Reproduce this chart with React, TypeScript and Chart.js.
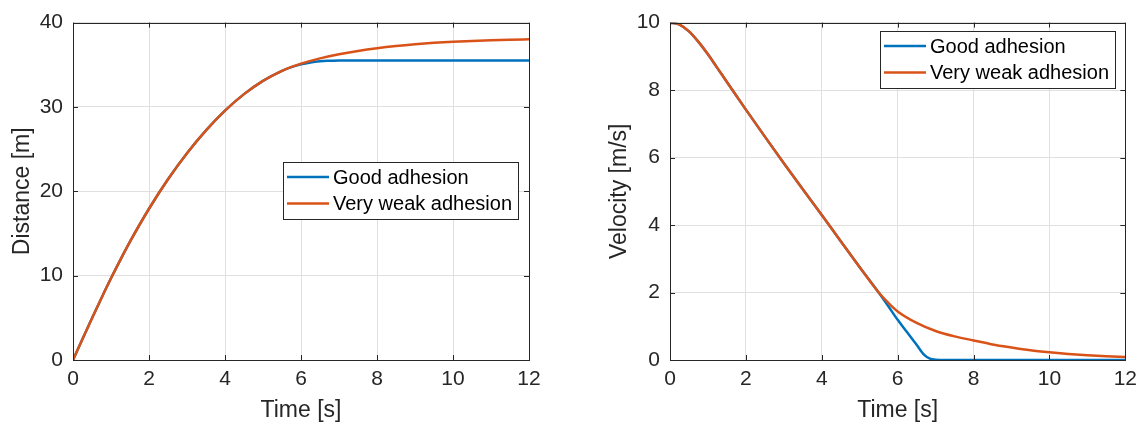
import React, { useEffect, useRef } from "react";
import { Chart, registerables } from "chart.js";

Chart.register(...registerables);

// ---------------- data ----------------
const seriesLabels = ["Good adhesion", "Very weak adhesion"];
const seriesColors = ["#0072BD", "#D95319"];

const timeGood = [0, 0.25, 0.5, 0.75, 1, 1.25, 1.5, 2, 2.5, 3, 3.5, 4, 4.5, 5, 5.5, 5.75, 6, 6.25, 6.5, 6.7, 6.85, 7, 7.25, 7.5, 8, 9, 10, 11, 12];
const velocityGood = [10, 9.94, 9.74, 9.43, 9.06, 8.65, 8.24, 7.42, 6.62, 5.83, 5.06, 4.3, 3.52, 2.75, 2.0, 1.6, 1.19, 0.82, 0.45, 0.15, 0.04, 0.01, 0, 0, 0, 0, 0, 0, 0];
const distanceGood = [0, 2.49, 4.95, 7.36, 9.69, 11.9, 14.03, 17.93, 21.42, 24.51, 27.22, 29.56, 31.52, 33.09, 34.28, 34.72, 35.05, 35.27, 35.41, 35.47, 35.49, 35.5, 35.5, 35.5, 35.5, 35.5, 35.5, 35.5, 35.5];

const timeWeak = [0, 0.25, 0.5, 0.75, 1, 1.25, 1.5, 2, 2.5, 3, 3.5, 4, 4.5, 5, 5.5, 5.75, 6, 6.5, 7, 7.5, 8, 8.5, 9, 9.5, 10, 10.5, 11, 11.5, 12];
const velocityWeak = [10, 9.94, 9.74, 9.43, 9.06, 8.65, 8.24, 7.42, 6.62, 5.83, 5.06, 4.3, 3.52, 2.75, 2.0, 1.7, 1.44, 1.1, 0.86, 0.7, 0.58, 0.46, 0.37, 0.29, 0.23, 0.18, 0.14, 0.11, 0.09];
const distanceWeak = [0, 2.49, 4.95, 7.36, 9.69, 11.9, 14.03, 17.93, 21.42, 24.51, 27.22, 29.56, 31.52, 33.09, 34.28, 34.75, 35.13, 35.76, 36.25, 36.64, 36.96, 37.22, 37.43, 37.6, 37.73, 37.83, 37.91, 37.97, 38.02];

// ---------------- style ----------------
const FONT = "'Liberation Sans', Arial, Helvetica, sans-serif";
const AXIS_COLOR = "#262626";
const GRID_COLOR = "#e0e0e0";

Chart.defaults.font.family = FONT;

const px = (v: number) => Math.round(v) + 0.5;

const matlabBox = {
  id: "matlabBox",
  afterDraw(chart: any) {
    const { ctx, chartArea: a, scales } = chart;
    ctx.save();
    ctx.strokeStyle = AXIS_COLOR;
    ctx.lineWidth = 1;
    const L = 5;
    ctx.beginPath();
    scales.x.ticks.forEach((t: any) => {
      const x = px(scales.x.getPixelForValue(t.value));
      ctx.moveTo(x, a.bottom);
      ctx.lineTo(x, a.bottom - L);
      ctx.moveTo(x, a.top);
      ctx.lineTo(x, a.top + L);
    });
    scales.y.ticks.forEach((t: any) => {
      const y = px(scales.y.getPixelForValue(t.value));
      ctx.moveTo(a.left, y);
      ctx.lineTo(a.left + L, y);
      ctx.moveTo(a.right, y);
      ctx.lineTo(a.right - L, y);
    });
    ctx.stroke();
    const l = px(a.left), r = px(a.right), t = px(a.top), b = px(a.bottom);
    ctx.strokeRect(l, t, r - l, b - t);
    ctx.restore();
  },
};

const boxLegend = {
  id: "boxLegend",
  afterDraw(chart: any, _args: any, opts: any) {
    const { ctx } = chart;
    const { left, top, width, height } = opts;
    ctx.save();
    ctx.fillStyle = "#ffffff";
    ctx.fillRect(left, top, width, height);
    ctx.strokeStyle = AXIS_COLOR;
    ctx.lineWidth = 1;
    ctx.strokeRect(px(left), px(top), Math.round(width), Math.round(height));
    ctx.font = `20px ${FONT}`;
    ctx.textBaseline = "middle";
    ctx.textAlign = "left";
    const rows = [15, 41.5];
    chart.data.datasets.forEach((ds: any, i: number) => {
      const y = top + rows[i];
      ctx.strokeStyle = ds.borderColor;
      ctx.lineWidth = 2.5;
      ctx.beginPath();
      ctx.moveTo(left + 4, y);
      ctx.lineTo(left + 46, y);
      ctx.stroke();
      ctx.fillStyle = "#000000";
      ctx.fillText(ds.label, left + 50, y + 1);
    });
    ctx.restore();
  },
};

function toPoints(ts: number[], vs: number[]) {
  return ts.map((t, i) => ({ x: t, y: vs[i] }));
}

function makeConfig(
  good: number[],
  weak: number[],
  yMax: number,
  yStep: number,
  yTitle: string,
  yWidth: number,
  yTitlePad: number,
  rightPad: number,
  legendPos: { left: number; top: number; width: number; height: number }
): any {
  return {
    type: "line",
    data: {
      datasets: [
        {
          label: seriesLabels[0],
          data: toPoints(timeGood, good),
          borderColor: seriesColors[0],
          backgroundColor: seriesColors[0],
          borderWidth: 2.5,
          pointRadius: 0,
          cubicInterpolationMode: "monotone",
          order: 1,
        },
        {
          label: seriesLabels[1],
          data: toPoints(timeWeak, weak),
          borderColor: seriesColors[1],
          backgroundColor: seriesColors[1],
          borderWidth: 2.5,
          pointRadius: 0,
          cubicInterpolationMode: "monotone",
          order: 0,
        },
      ],
    },
    options: {
      animation: false,
      responsive: false,
      devicePixelRatio: 1,
      events: [],
      layout: { padding: { top: 20, right: rightPad, bottom: 0, left: 0 } },
      plugins: {
        legend: { display: false },
        tooltip: { enabled: false },
        boxLegend: legendPos,
      },
      scales: {
        x: {
          type: "linear",
          min: 0,
          max: 12,
          ticks: { stepSize: 2, color: AXIS_COLOR, font: { size: 21 }, padding: 7, maxRotation: 0 },
          grid: { color: GRID_COLOR, drawTicks: false, lineWidth: 1 },
          border: { display: false },
          title: { display: true, text: "Time [s]", color: AXIS_COLOR, font: { size: 23 }, padding: { top: 0, bottom: 6 } },
          afterFit: (s: any) => { s.height = 70; },
        },
        y: {
          type: "linear",
          min: 0,
          max: yMax,
          ticks: { stepSize: yStep, color: AXIS_COLOR, font: { size: 21 }, padding: 10 },
          grid: { color: GRID_COLOR, drawTicks: false, lineWidth: 1 },
          border: { display: false },
          title: { display: true, text: yTitle, color: AXIS_COLOR, font: { size: 23 }, padding: { top: yTitlePad, bottom: 0 } },
          afterFit: (s: any) => { s.width = yWidth; },
        },
      },
    },
    plugins: [matlabBox, boxLegend],
  };
}

export default function App() {
  const leftRef = useRef<HTMLCanvasElement>(null);
  const rightRef = useRef<HTMLCanvasElement>(null);

  useEffect(() => {
    const c1 = new Chart(
      leftRef.current as HTMLCanvasElement,
      makeConfig(distanceGood, distanceWeak, 40, 10, "Distance [m]", 73, 9, 43, { left: 283, top: 162, width: 235, height: 57 })
    );
    const c2 = new Chart(
      rightRef.current as HTMLCanvasElement,
      makeConfig(velocityGood, velocityWeak, 10, 2, "Velocity [m/s]", 98, 34, 18, { left: 308, top: 31, width: 235, height: 57 })
    );
    return () => {
      c1.destroy();
      c2.destroy();
    };
  }, []);

  return (
    <div style={{ position: "fixed", left: 0, top: 0, width: 1144, height: 430, background: "#ffffff" }}>
      <canvas ref={leftRef} width={572} height={430} style={{ position: "absolute", left: 0, top: 0, width: 572, height: 430 }} />
      <canvas ref={rightRef} width={572} height={430} style={{ position: "absolute", left: 572, top: 0, width: 572, height: 430 }} />
    </div>
  );
}
